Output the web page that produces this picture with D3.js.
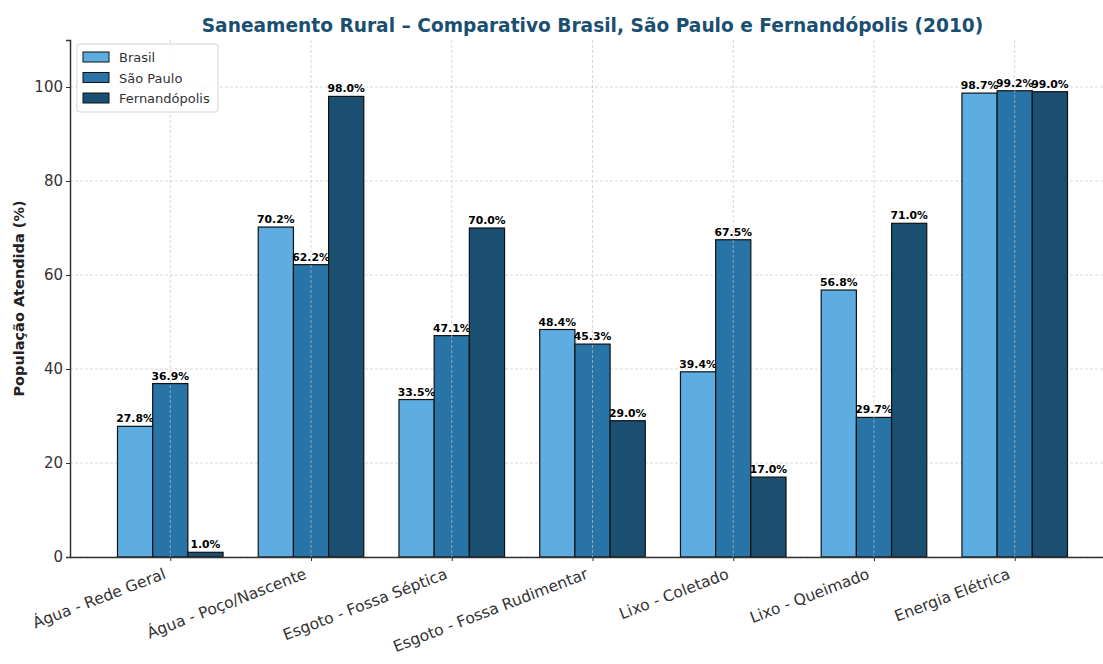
<!DOCTYPE html>
<html>
<head>
<meta charset="utf-8">
<script src="https://cdn.jsdelivr.net/npm/d3@7"></script>
<style>
  html, body { margin: 0; padding: 0; background: #fff; }
  svg { display: block; font-family: "DejaVu Sans", sans-serif; }
</style>
</head>
<body>
<svg id="chart" width="1103" height="664"></svg>
<script>
// Indicators of rural sanitation (2010)
const categories = [
  "Água - Rede Geral",
  "Água - Poço/Nascente",
  "Esgoto - Fossa Séptica",
  "Esgoto - Fossa Rudimentar",
  "Lixo - Coletado",
  "Lixo - Queimado",
  "Energia Elétrica"
];
const seriesNames = ["Brasil", "São Paulo", "Fernandópolis"];
const brasil = [27.8, 70.2, 33.5, 48.4, 39.4, 56.8, 98.7];
const saoPaulo = [36.9, 62.2, 47.1, 45.3, 67.5, 29.7, 99.2];
const fernandopolis = [1.0, 98.0, 70.0, 29.0, 17.0, 71.0, 99.0];
const yTicks = [0, 20, 40, 60, 80, 100];
const colors = ["#5DADE2", "#2874A6", "#1B4F72"];

const series = [brasil, saoPaulo, fernandopolis];
const svg = d3.select("#chart");

const plotLeft = 70, plotRight = 1115, plotTop = 40, plotBottom = 557;
const barW = 0.25;
// category index domain with matplotlib-style margins
const x = d3.scaleLinear().domain([-0.7125, 6.7125]).range([plotLeft, plotRight]);
const y = d3.scaleLinear().domain([0, 110]).range([plotBottom, plotTop]);

// horizontal grid (behind bars)
svg.append("g").selectAll("line").data(yTicks).join("line")
  .attr("x1", plotLeft).attr("x2", plotRight)
  .attr("y1", d => y(d)).attr("y2", d => y(d))
  .attr("stroke", "#cfcfcf").attr("stroke-width", 0.8)
  .attr("stroke-dasharray", "3,2");

// bars
series.forEach((vals, s) => {
  const off = (s - 1) * barW;
  const g = svg.append("g");
  g.selectAll("rect").data(vals).join("rect")
    .attr("x", (d, i) => x(i + off - barW / 2))
    .attr("width", x(barW) - x(0))
    .attr("y", d => y(d))
    .attr("height", d => y(0) - y(d))
    .attr("fill", colors[s])
    .attr("stroke", "#111")
    .attr("stroke-width", 1.2);
  g.selectAll("text").data(vals).join("text")
    .attr("x", (d, i) => x(i + off))
    .attr("y", d => y(d) - 4)
    .attr("text-anchor", "middle")
    .attr("font-size", 10.8)
    .attr("font-weight", "bold")
    .attr("fill", "#000")
    .text(d => d.toFixed(1) + "%");
});

// vertical grid at category positions
svg.append("g").selectAll("line").data(categories).join("line")
  .attr("x1", (d, i) => x(i)).attr("x2", (d, i) => x(i))
  .attr("y1", plotTop).attr("y2", plotBottom)
  .attr("stroke", "#c4c4c4").attr("stroke-opacity", 0.75).attr("stroke-width", 0.9)
  .attr("stroke-dasharray", "3,2");

// y axis
const yAxis = svg.append("g").attr("transform", `translate(${plotLeft},0)`)
  .call(d3.axisLeft(y).tickValues(yTicks).tickSize(4).tickPadding(3));
yAxis.select(".domain").attr("stroke", "#333").attr("stroke-width", 1.5);
yAxis.selectAll(".tick line").attr("stroke", "#333");
yAxis.selectAll(".tick text").attr("font-size", 15).attr("fill", "#333")
  .attr("font-family", "DejaVu Sans, sans-serif");

// x axis
const xAxis = svg.append("g").attr("transform", `translate(0,${plotBottom})`)
  .call(d3.axisBottom(x).tickValues(d3.range(categories.length))
    .tickFormat(i => categories[i]).tickSize(4).tickSizeOuter(0));
xAxis.select(".domain").attr("stroke", "#333").attr("stroke-width", 1.5);
xAxis.selectAll(".tick line").attr("stroke", "#333");
xAxis.selectAll(".tick text")
  .attr("font-size", 15.5).attr("fill", "#333")
  .attr("font-family", "DejaVu Sans, sans-serif")
  .attr("text-anchor", "end")
  .attr("x", 0).attr("y", 0).attr("dy", "0")
  .attr("transform", "translate(-4,21) rotate(-21)");

// axis title
svg.append("text")
  .attr("transform", `translate(24,${(plotTop + plotBottom) / 2}) rotate(-90)`)
  .attr("text-anchor", "middle")
  .attr("font-size", 14.5).attr("font-weight", "bold").attr("fill", "#222")
  .text("População Atendida (%)");

// chart title
svg.append("text")
  .attr("x", (plotLeft + plotRight) / 2).attr("y", 32)
  .attr("text-anchor", "middle")
  .attr("font-size", 18.6).attr("font-weight", "bold").attr("fill", "#1B4F72")
  .text("Saneamento Rural – Comparativo Brasil, São Paulo e Fernandópolis (2010)");

// legend
const lg = svg.append("g").attr("transform", "translate(77,44)");
lg.append("rect").attr("width", 141).attr("height", 68).attr("rx", 3)
  .attr("fill", "#fff").attr("fill-opacity", 0.85)
  .attr("stroke", "#d5d5d5").attr("stroke-width", 1);
seriesNames.forEach((name, i) => {
  const row = lg.append("g").attr("transform", `translate(0,${8 + i * 20.5})`);
  row.append("rect").attr("x", 6).attr("y", 0).attr("width", 26).attr("height", 10)
    .attr("fill", colors[i]).attr("stroke", "#111").attr("stroke-width", 1);
  row.append("text").attr("x", 42).attr("y", 10)
    .attr("font-size", 13).attr("fill", "#333").text(name);
});
</script>
</body>
</html>
